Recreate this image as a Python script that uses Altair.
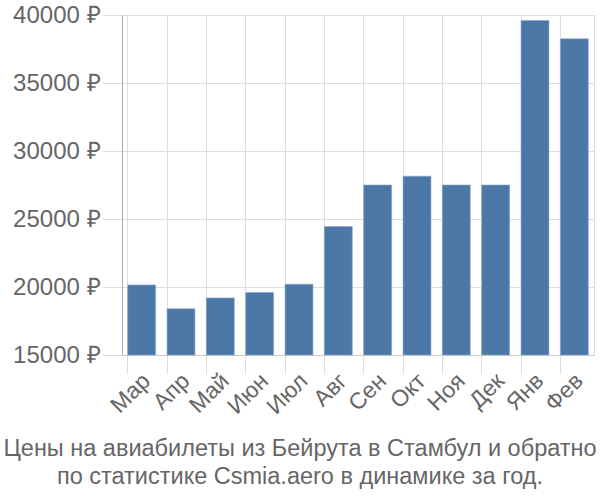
import altair as alt
import pandas as pd

months = ["Мар", "Апр", "Май", "Июн", "Июл", "Авг", "Сен", "Окт", "Ноя", "Дек", "Янв", "Фев"]
prices = [20150, 18400, 19200, 19600, 20200, 24450, 27500, 28150, 27500, 27500, 39600, 38250]
y_ticks = [15000, 20000, 25000, 30000, 35000, 40000]
title_lines = ["Цены на авиабилеты из Бейрута в Стамбул и обратно",
               "по статистике Csmia.aero в динамике за год."]

df = pd.DataFrame({"month": months, "price": prices})

chart = alt.Chart(df).mark_bar(color="#4c78a8", stroke="#8aa6c8", strokeWidth=0.6).encode(
    x=alt.X("month:N", sort=months, title=None,
            scale=alt.Scale(paddingInner=0.29, paddingOuter=0.145),
            axis=alt.Axis(labelAngle=-45, labelAlign="right", labelBaseline="middle",
                          labelFontSize=23, labelColor="#666666", labelFont="Liberation Sans",
                          bandPosition=0, grid=True, gridColor="#dddddd",
                          tickColor="#dddddd", tickSize=18, domainColor="#cccccc",
                          labelPadding=4, labelOffset=5)),
    y=alt.Y("price:Q", title=None,
            scale=alt.Scale(domain=[15000, 40000], zero=False, nice=False),
            axis=alt.Axis(values=y_ticks, labelExpr="datum.value + ' ₽'",
                          labelFontSize=24, labelColor="#666666", labelFont="Liberation Sans",
                          gridColor="#dddddd", tickColor="#dddddd", tickSize=20,
                          domainColor="#aaaaaa", labelPadding=2)),
    y2=alt.datum(15000),
).properties(
    width=472, height=340,
    title=alt.TitleParams(title_lines, orient="bottom", fontSize=23.5, font="Liberation Sans",
                          color="#666666", fontWeight="normal", anchor="middle", offset=18,
                          lineHeight=28, dx=-58),
    autosize=alt.AutoSizeParams(type="none"),
    padding={"left": 122, "top": 15, "right": 6, "bottom": 145},
).configure_view(stroke="#dddddd")

chart.save("out.html", embed_options={"renderer": "svg", "actions": False})
